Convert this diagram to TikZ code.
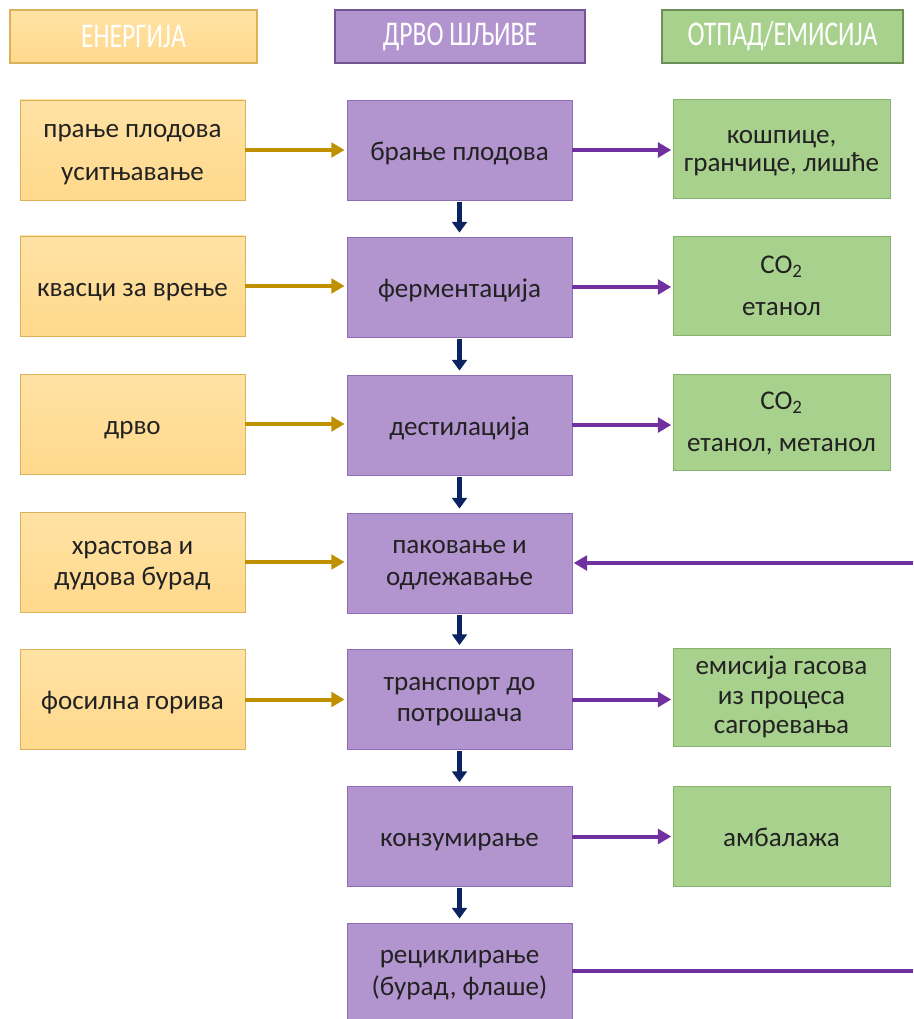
\documentclass[tikz,border=0pt]{standalone}
\usepackage{fontspec}
\setmainfont{Carlito}
\newfontfamily\hdrfont[FakeStretch=0.74]{Carlito}
\usetikzlibrary{arrows.meta}
\definecolor{goldfill}{HTML}{FFD98C}
\definecolor{goldtop}{HTML}{FFE2A4}
\definecolor{goldline}{HTML}{D9B25A}
\definecolor{purfill}{HTML}{B294CF}
\definecolor{purline}{HTML}{8F6CB8}
\definecolor{grnfill}{HTML}{A9D18E}
\definecolor{grnline}{HTML}{86B36E}
\definecolor{goldarrow}{HTML}{BF9000}
\definecolor{purarrow}{HTML}{7030A0}
\definecolor{navyarrow}{HTML}{0B2360}
\definecolor{txt}{HTML}{222222}
\newcommand{\topstrut}{\rule{0pt}{19.5pt}}
\newcommand{\botstrut}{\rule[-4pt]{0pt}{4pt}}
\newcommand{\ts}[1]{\rule{0pt}{#1pt}}
\begin{document}
\begin{tikzpicture}[x=0.75pt,y=-0.75pt,
  box/.style={rectangle,inner sep=0pt,align=center,text=txt,font=\fontsize{20.3}{23.5}\selectfont,line width=0.6pt},
  one/.style={execute at begin node=\topstrut, execute at end node=\botstrut},
  energy/.style={box,draw=goldline,top color=goldtop,bottom color=goldfill,minimum width=168.75pt,minimum height=75pt},
  wood/.style={box,draw=purline,fill=purfill,minimum width=168.75pt,minimum height=75pt},
  waste/.style={box,draw=grnline,fill=grnfill,minimum width=162.75pt,minimum height=74pt},
  hdr/.style={rectangle,minimum height=39.75pt,text=white,font=\hdrfont\fontsize{26}{28}\selectfont,line width=0.8pt},
  garrow/.style={draw=goldarrow,line width=3pt,-{Triangle[length=10pt,width=11pt]},shorten >=1.5pt},
  parrow/.style={draw=purarrow,line width=3pt,-{Triangle[length=10pt,width=11pt]},shorten >=1pt},
  pline/.style={draw=purarrow,line width=3pt},
  narrow/.style={draw=navyarrow,line width=3.5pt,-{Triangle[length=8pt,width=11pt]},shorten >=3pt,shorten <=1pt},
]
\useasboundingbox (0,0) rectangle (913,1019);
% headers
\node[hdr,draw=goldline,top color=goldtop,bottom color=goldfill,minimum width=185.25pt] (h1) at (133.5,36.5) {ЕНЕРГИЈА};
\node[hdr,draw=purline!80!black,fill=purfill,minimum width=187.5pt] (h2) at (460,36.5) {ДРВО ШЉИВЕ};
\node[hdr,draw=grnline!80!black,fill=grnfill,minimum width=180.75pt] (h3) at (782.5,36.5) {ОТПАД/ЕМИСИЈА};
% energy column
\node[energy,font=\fontsize{20.3}{32.5}\selectfont] (e1) at (132.5,150) {\ts{17.5}прање плодова\\усит\-њавање\botstrut};
\node[energy,one] (e2) at (132.5,286) {квасци за врење};
\node[energy,one] (e3) at (132.5,424) {дрво};
\node[energy] (e4) at (132.5,562) {\ts{16}храстова и\\дудова бурад\botstrut};
\node[energy,one] (e5) at (132.5,699.5) {фосилна горива};
% wood column
\node[wood,one] (w1) at (459.5,150) {брање плодова};
\node[wood,one] (w2) at (459.5,287) {ферментација};
\node[wood,one] (w3) at (459.5,425) {дестилација};
\node[wood] (w4) at (459.5,563) {\ts{13.5}паковање и\\одлежавање\botstrut};
\node[wood] (w5) at (459.5,699.5) {\ts{13.5}транспорт до\\потрошача\botstrut};
\node[wood,one] (w6) at (459.5,836.5) {конзумирање};
\node[wood] (w7) at (459.5,973) {\ts{13.5}рециклирање\\(бурад, флаше)\botstrut};
% waste column
\node[waste,font=\fontsize{20.3}{21}\selectfont] (o1) at (781.5,149) {\ts{17.5}кошпице,\\гранчице, лишће\botstrut};
\node[waste,font=\fontsize{20.3}{31.5}\selectfont] (o2) at (781.5,286) {\ts{16.5}CO\textsubscript{2}\\етанол\botstrut};
\node[waste,font=\fontsize{20.3}{31.5}\selectfont,minimum height=72pt] (o3) at (781.5,422) {\ts{16.5}CO\textsubscript{2}\\етанол, метанол\botstrut};
\node[waste,font=\fontsize{20.3}{22}\selectfont] (o5) at (781.5,697.5) {\ts{13.5}емисија гасова\\из процеса\\сагоревања\botstrut};
\node[waste,one,minimum height=75.5pt] (o6) at (781.5,836.5) {амбалажа};
% free ends
\coordinate (r4) at (913,563);
\coordinate (r7) at (913,971);
% energy inputs
\foreach \i in {1,...,5} {\draw[garrow] (e\i.east) -- (w\i.west |- e\i.east);}
% waste outputs
\draw[parrow] (w1.east) -- (o1.west |- w1.east);
\draw[parrow] (w2.east) -- (o2.west |- w2.east);
\draw[parrow] (w3.east) -- (o3.west |- w3.east);
\draw[parrow] (w5.east) -- (o5.west |- w5.east);
\draw[parrow] (w6.east) -- (o6.west |- w6.east);
% recycle loop
\draw[parrow] (r4) -- (w4.east);
\draw[pline] (w7.east |- r7) -- (r7);
% process chain
\foreach \a/\b in {1/2,2/3,3/4,4/5,5/6,6/7} {\draw[narrow] (w\a.south) -- (w\b.north);}
\end{tikzpicture}
\end{document}
